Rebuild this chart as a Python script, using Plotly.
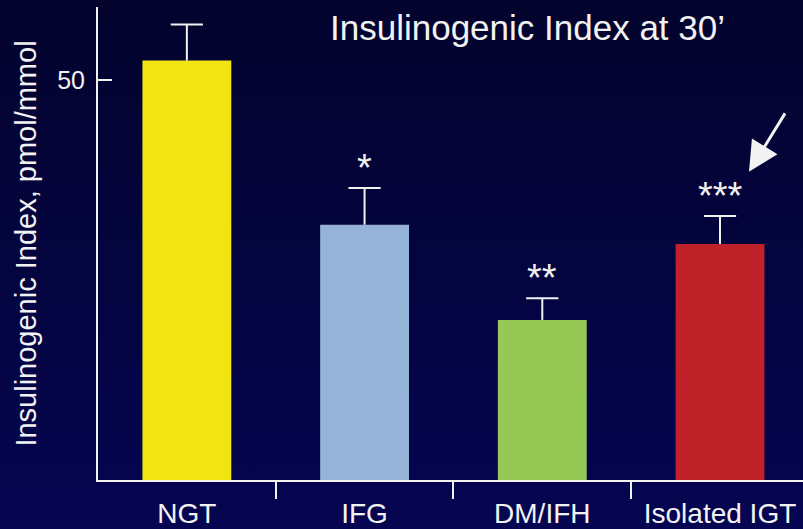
import base64
import plotly.graph_objects as go

categories = ["NGT", "IFG", "DM/IFH", "Isolated IGT"]
values = [52.4, 31.9, 20.0, 29.5]
errors = [4.5, 4.6, 2.7, 3.5]
significance = ["", "*", "**", "***"]
bar_colors = ["#F0E512", "#95B3D7", "#96C855", "#C0222A"]
y_tick_vals = [50]
y_tick_text = ["50"]

FONT = "Liberation Sans, Arial, Helvetica, sans-serif"
WHITE = "#F2F2F2"

x_pos = list(range(len(categories)))
boundaries = [i + 0.5 for i in range(len(categories) - 1)]
tops = [v + e for v, e in zip(values, errors)]

svg = (
    '<svg xmlns="http://www.w3.org/2000/svg" width="100" height="100" preserveAspectRatio="none">'
    '<defs><linearGradient id="g" x1="0" y1="0" x2="0" y2="1">'
    '<stop offset="0" stop-color="#03032C"/><stop offset="1" stop-color="#050553"/>'
    '</linearGradient></defs><rect width="100" height="100" fill="url(#g)"/></svg>'
)
bg_src = "data:image/svg+xml;base64," + base64.b64encode(svg.encode()).decode()

fig = go.Figure()
fig.add_trace(go.Bar(
    x=x_pos, y=values, width=0.5,
    marker=dict(color=bar_colors, line=dict(width=0)),
    showlegend=False, hoverinfo="skip",
))
# error bar stems (upper only)
stem_x, stem_y = [], []
for xi, v, t in zip(x_pos, values, tops):
    stem_x += [xi, xi, None]
    stem_y += [v, t, None]
fig.add_trace(go.Scatter(x=stem_x, y=stem_y, mode="lines",
                         line=dict(color=WHITE, width=2),
                         showlegend=False, hoverinfo="skip"))
# caps
fig.add_trace(go.Scatter(x=x_pos, y=tops, mode="markers",
                         marker=dict(symbol="line-ew", size=23,
                                     line=dict(color=WHITE, width=2)),
                         showlegend=False, hoverinfo="skip"))
# invisible trace holding the label axis
fig.add_trace(go.Scatter(x=x_pos, y=values, xaxis="x2", mode="markers",
                         marker=dict(opacity=0), showlegend=False, hoverinfo="skip"))

for xi, t, s in zip(x_pos, tops, significance):
    if s:
        fig.add_annotation(x=xi, y=t, text=s, showarrow=False, yanchor="bottom",
                           yshift=-3, font=dict(family=FONT, size=38, color=WHITE))

# arrow pointing at Isolated IGT
fig.add_annotation(x=3.163, y=38.5, ax=37, ay=-60, text="", showarrow=True,
                   arrowhead=2, arrowsize=2.0, arrowwidth=3, arrowcolor=WHITE)

fig.add_annotation(x=0.609, y=1.0, xref="paper", yref="paper", yanchor="top",
                   text="Insulinogenic Index at 30’", showarrow=False, yshift=1,
                   font=dict(family=FONT, size=35, color=WHITE))

fig.update_layout(
    width=803, height=529,
    margin=dict(l=98, r=0, t=7, b=49, pad=0),
    paper_bgcolor="#04043A", plot_bgcolor="rgba(0,0,0,0)",
    images=[dict(source=bg_src, xref="paper", yref="paper", x=-0.2, y=1.05,
                 sizex=1.4, sizey=1.2, sizing="stretch", layer="below",
                 xanchor="left", yanchor="top")],
    font=dict(family=FONT, color=WHITE),
    xaxis=dict(range=[-0.5, 3.467], tickmode="array", tickvals=boundaries,
               showticklabels=False, ticks="outside", ticklen=17, tickwidth=2,
               tickcolor=WHITE, showline=True, linecolor=WHITE, linewidth=2,
               showgrid=False, zeroline=False, automargin=False),
    xaxis2=dict(range=[-0.5, 3.467], overlaying="x", anchor="y", side="bottom",
                tickmode="array", tickvals=x_pos, ticktext=categories, ticks="",
                showline=False, showgrid=False, zeroline=False, automargin=False,
                ticklabelstandoff=14,
                tickfont=dict(family=FONT, size=28, color=WHITE)),
    yaxis=dict(range=[0, 59.1], tickmode="array", tickvals=y_tick_vals,
               ticktext=y_tick_text, ticks="inside", ticklen=14, tickwidth=2,
               tickcolor=WHITE, showline=True, linecolor=WHITE, linewidth=2,
               showgrid=False, zeroline=False, ticklabelstandoff=6, automargin=False,
               tickfont=dict(family=FONT, size=25, color=WHITE),
               title=dict(text="Insulinogenic Index, pmol/mmol", standoff=12,
                          font=dict(family=FONT, size=29, color=WHITE))),
)

fig.write_html("out.html", config={"displayModeBar": False},
               post_script="document.body.style.margin='0';document.body.style.overflow='hidden';")
